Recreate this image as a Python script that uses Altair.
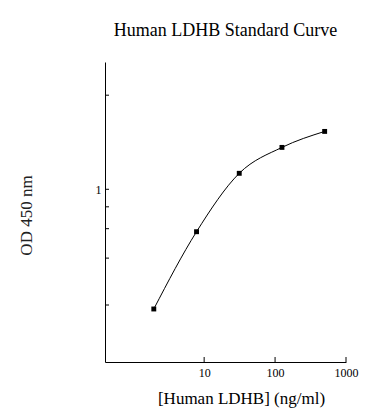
import altair as alt
import pandas as pd

# Data
conc = [1.95, 7.81, 31.25, 125, 500]          # ng/ml
od = [0.188, 0.576, 1.219, 1.663, 2.002]      # OD 450 nm
xtick_vals = [10, 100, 1000]
ytick_vals = [0.2, 0.4, 0.6, 0.8, 1, 3]
ylabel_vals = [1]

df = pd.DataFrame({"conc": conc, "od": od})
FONT = "Liberation Serif"
W, H = 241, 300

xscale = alt.Scale(type="log", domain=[0.4, 1000], nice=False)
yscale = alt.Scale(type="pow", exponent=0.13, domain=[0.0784, 4.27], nice=False, zero=False)

x_axis = alt.Axis(
    values=xtick_vals, format="d", ticks=False, grid=False, labelFlush=False,
    labelPadding=5, labelFontSize=12, labelFont=FONT, labelColor="black",
    domainColor="black", domainWidth=1,
    title="[Human LDHB] (ng/ml)", titleFont=FONT, titleFontSize=17,
    titleFontWeight="normal", titleColor="black",
    titleX=136, titleY=41, titleBaseline="alphabetic", titleAlign="center",
)
y_axis = alt.Axis(
    values=ylabel_vals, format="d", ticks=False, grid=False, labelFlush=False,
    labelPadding=4, labelFontSize=12, labelFont=FONT, labelColor="black",
    domainColor="black", domainWidth=1,
    title="OD 450 nm", titleFont=FONT, titleFontSize=17,
    titleFontWeight="normal", titleColor="#222222",
    titleX=-79, titleY=153, titleBaseline="middle", titleAlign="center", titleAngle=270,
)

base = alt.Chart(df).encode(
    x=alt.X("conc:Q", scale=xscale, axis=x_axis),
    y=alt.Y("od:Q", scale=yscale, axis=y_axis),
)
line = base.mark_line(color="black", strokeWidth=1, interpolate="monotone")
pts = base.mark_square(color="black", size=24, opacity=1, filled=True)

yticks = alt.Chart(pd.DataFrame({"t": ytick_vals})).mark_rule(color="black", strokeWidth=1).encode(
    y=alt.Y("t:Q", scale=yscale, axis=y_axis),
    x=alt.value(0), x2=alt.value(4),
)
xticks = alt.Chart(pd.DataFrame({"t": xtick_vals})).mark_rule(color="black", strokeWidth=1).encode(
    x=alt.X("t:Q", scale=xscale, axis=x_axis),
    y=alt.value(H), y2=alt.value(H - 5),
)

chart = alt.layer(line, pts, yticks, xticks).properties(
    width=W, height=H,
    title=alt.TitleParams(
        "Human LDHB Standard Curve", font=FONT, fontSize=18, fontWeight="normal",
        color="black", anchor="middle", frame="group", offset=8, baseline="alphabetic",
    ),
    autosize=alt.AutoSizeParams(type="none"),
    padding={"left": 97, "top": 54, "right": 34, "bottom": 50},
).configure(background="white").configure_view(stroke=None)

chart.save("out.html", embed_options={"renderer": "svg", "actions": False})
